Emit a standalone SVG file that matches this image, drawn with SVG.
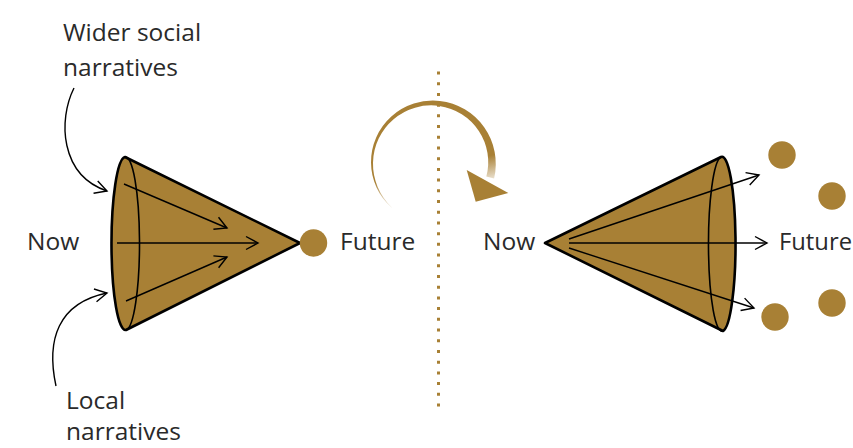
<svg xmlns="http://www.w3.org/2000/svg" width="853" height="448" viewBox="0 0 853 448">
<style>
.lbl{font-family:"Open Sans","Liberation Sans",sans-serif;font-size:24.5px;fill:#2a2a2a}
.cone{fill:#A88035;stroke:#000;stroke-width:2.6;stroke-linejoin:round}
.rim{fill:none;stroke:#000;stroke-width:1.6}
.arr{fill:none;stroke:#000;stroke-width:1.4;marker-end:url(#open)}
.dot{fill:#A88035}
</style>
<defs>
<marker id="open" markerUnits="userSpaceOnUse" markerWidth="16" markerHeight="16" viewBox="0 0 16 16" refX="13" refY="8" orient="auto">
<path d="M1,1.5 L13,8 L1,14.5" fill="none" stroke="#000" stroke-width="1.4"/>
</marker>
<linearGradient id="fade" gradientUnits="userSpaceOnUse" x1="392" y1="210" x2="385" y2="180">
<stop offset="0" stop-color="#A88035" stop-opacity="0"/>
<stop offset="1" stop-color="#A88035" stop-opacity="1"/>
</linearGradient>
</defs>

<g id="divider">
<line x1="438.5" y1="71.5" x2="438.5" y2="407" stroke="#A88035" stroke-width="3" stroke-dasharray="3 7.71"/>
</g>

<g id="rotation-arrow">
<path fill="url(#fade)" d="M391.69,207.77 A60.6,60.6 0 0 1 376.53,187.46 A61,61 0 0 1 371,162.57 A61.4,61.4 0 0 1 376.19,137.45 A61.75,61.75 0 0 1 391.33,116.54 A62.1,62.1 0 0 1 413.83,103.59 A62.5,62.5 0 0 1 439.83,100.99 A62.9,62.9 0 0 1 464.76,109.34 A63.25,63.25 0 0 1 484.19,127.26 A63.6,63.6 0 0 1 494.62,151.73 A64,64 0 0 1 494.1,178.48 L486.34,176.55 A56,56 0 0 0 487.48,153.02 A56.4,56.4 0 0 0 478.82,130.94 A56.75,56.75 0 0 0 461.76,114.24 A57.1,57.1 0 0 0 439.2,105.95 A57.5,57.5 0 0 0 415.08,107.65 A57.9,57.9 0 0 0 393.63,119.17 A58.25,58.25 0 0 0 378.69,138.59 A58.6,58.6 0 0 0 373,162.59 A59,59 0 0 0 377.67,186.96 A59.4,59.4 0 0 0 392.02,207.4 Z"/>
<polygon fill="#A88035" points="466.7,170 508.3,193 475.7,201.7"/>
</g>

<g id="left-cone">
<path class="cone" d="M125,157 L300,243 L126,330 A14,86.5 0 0 1 125,157 Z"/>
<path class="rim" d="M125,157 A14,86.5 0 0 1 126,330"/>
<path class="arr" d="M124,184 L227,228"/>
<path class="arr" d="M117,243 L258,243"/>
<path class="arr" d="M126,301 L227,257"/>
</g>

<g id="left-future-dot">
<circle class="dot" cx="313.5" cy="243" r="13.7"/>
</g>

<g id="right-cone">
<path class="cone" d="M545,243 L721,157 A13.5,87 0 0 1 723,331 Z"/>
<path class="rim" d="M721,157 A13.5,87 0 0 0 723,331"/>
<path class="arr" d="M569,239 L759,175"/>
<path class="arr" d="M569,243 L767,243"/>
<path class="arr" d="M569,248 L754,308"/>
</g>

<g id="right-future-dots">
<circle class="dot" cx="782" cy="155" r="13.7"/>
<circle class="dot" cx="832" cy="196" r="13.7"/>
<circle class="dot" cx="775" cy="317" r="13.7"/>
<circle class="dot" cx="832" cy="303" r="13.7"/>
</g>

<g id="connectors">
<path class="arr" d="M74,88 C58,120 60,175 107,191"/>
<path class="arr" d="M56,386 C46,340 58,303 107,293"/>
</g>

<g id="labels">
<text class="lbl" x="63" y="40.5">Wider social</text>
<text class="lbl" x="63" y="75.5">narratives</text>
<text class="lbl" x="27" y="250">Now</text>
<text class="lbl" x="340" y="250">Future</text>
<text class="lbl" x="483" y="250">Now</text>
<text class="lbl" x="779" y="250" font-size="23.5" textLength="73" lengthAdjust="spacingAndGlyphs">Future</text>
<text class="lbl" x="66" y="409">Local</text>
<text class="lbl" x="66" y="440">narratives</text>
</g>
</svg>
